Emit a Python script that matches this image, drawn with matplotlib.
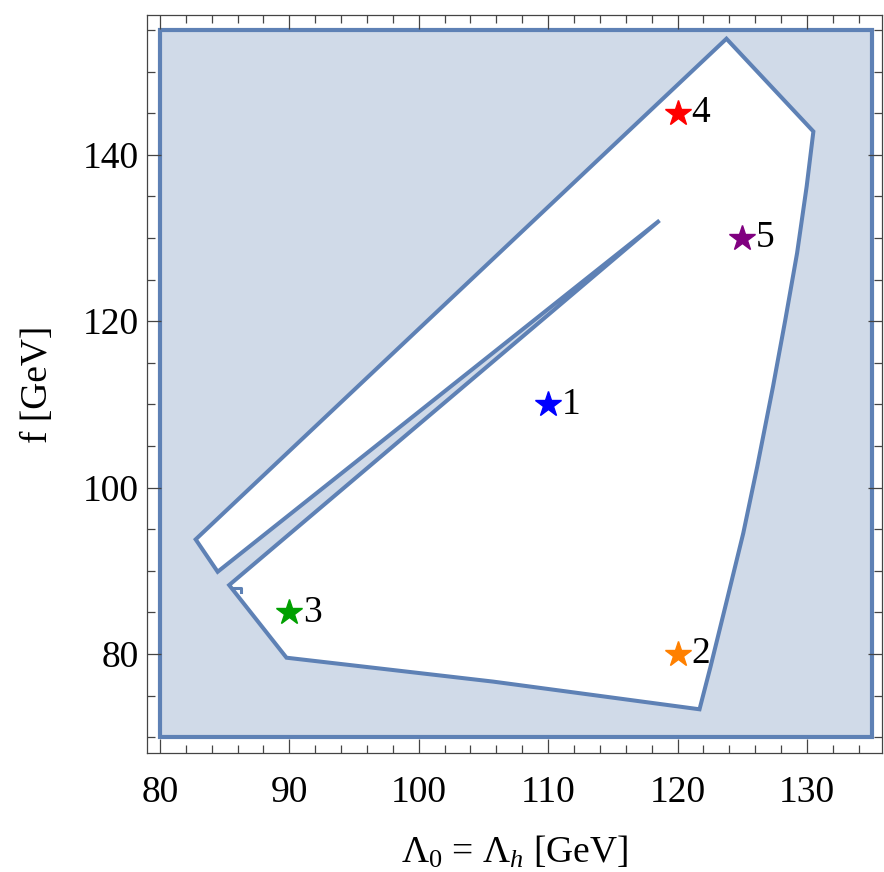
import numpy as np
import matplotlib
matplotlib.use("Agg")
import matplotlib.pyplot as plt
from matplotlib.patches import Polygon, Rectangle
from matplotlib.ticker import MultipleLocator

plt.rcParams["font.family"] = ["Liberation Serif", "DejaVu Serif"]
plt.rcParams["mathtext.fontset"] = "custom"
plt.rcParams["mathtext.rm"] = "Liberation Serif"
plt.rcParams["mathtext.it"] = "Liberation Serif:italic"

# scanned region (shaded = excluded)
scan_x = [80, 135]
scan_y = [70, 155]

# allowed (white) region boundary, traced clockwise
allowed_x = [82.76, 123.78, 130.50, 129.98, 129.24, 128.33, 127.38, 126.16,
             125.08, 123.82, 122.55, 121.70, 105.74, 89.78, 85.35, 118.61, 84.46]
allowed_y = [93.77, 153.95, 142.80, 136.19, 128.18, 120.16, 112.14, 102.52,
             94.51, 86.49, 78.47, 73.35, 76.68, 79.55, 88.28, 132.1, 89.88]

# small stub near the lower-left corner
stub_x = [85.75, 86.29, 86.29]
stub_y = [87.94, 87.94, 87.5]

# benchmark points
bench_x = [110, 120, 90, 120, 125]
bench_y = [110, 80, 85, 145, 130]
bench_lbl = ["1", "2", "3", "4", "5"]
bench_col = ["#0000FF", "#FF8000", "#00A000", "#FF0000", "#800080"]

line_c = "#5E81B5"
fill_c = "#D0DAE8"

fig = plt.figure(figsize=(8.84, 8.72), dpi=100)
ax = fig.add_axes([0.1663, 0.1365, 0.8314, 0.8463])

ax.add_patch(Rectangle((scan_x[0], scan_y[0]), scan_x[1] - scan_x[0], scan_y[1] - scan_y[0],
                       facecolor=fill_c, edgecolor=line_c, lw=3.0, zorder=1))
ax.add_patch(Polygon(np.column_stack([allowed_x, allowed_y]), closed=True,
                     facecolor="white", edgecolor=line_c, lw=2.9, joinstyle="miter", zorder=2))
ax.plot(stub_x, stub_y, color=line_c, lw=2.2, zorder=3)

for x, y, t, c in zip(bench_x, bench_y, bench_lbl, bench_col):
    ax.plot(x, y, marker="*", ms=19, color=c, mec=c, zorder=4)
    ax.annotate(t, (x, y), xytext=(10, 0), textcoords="offset points",
                ha="left", va="center", fontsize=27, color="black", zorder=5)

ax.set_xlim(79.0, 135.8)
ax.set_ylim(68.1, 156.8)

ax.xaxis.set_major_locator(MultipleLocator(10))
ax.xaxis.set_minor_locator(MultipleLocator(2))
ax.yaxis.set_major_locator(MultipleLocator(20))
ax.yaxis.set_minor_locator(MultipleLocator(5))
ax.tick_params(which="both", direction="in", top=True, right=True, color="#444444",
               labelsize=27, width=0.9)
ax.tick_params(which="major", length=10)
ax.tick_params(which="minor", length=5.5)
ax.tick_params(axis="x", which="major", pad=16)
ax.tick_params(axis="y", which="major", pad=6)
for s in ax.spines.values():
    s.set_color("#444444")
    s.set_linewidth(0.9)

ax.set_xlabel(r"$\Lambda_0$ = $\Lambda_h$ [GeV]", fontsize=27, labelpad=18)
ax.set_ylabel("f [GeV]", fontsize=27, labelpad=20)

fig.savefig("out.png", dpi=100)
